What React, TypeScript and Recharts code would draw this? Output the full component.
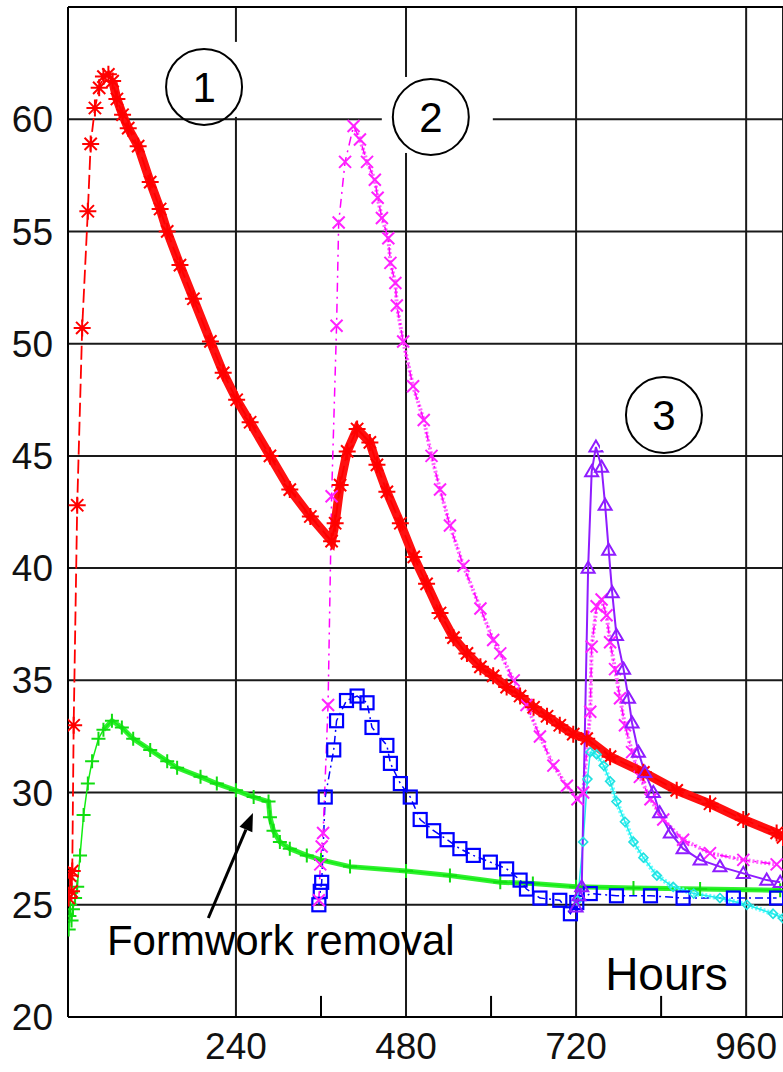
import React from 'react';
import { ComposedChart, Line, XAxis, YAxis, CartesianGrid, ReferenceLine, ReferenceDot } from 'recharts';

// Temperature (°C) vs hours
const redHours = [4, 6, 8, 9, 11, 16, 23, 31, 35, 41, 47, 53, 60, 66, 72, 80, 88, 102, 119, 133, 143, 161, 180, 204, 222, 241, 260, 288, 316, 345, 375, 380, 387, 397, 411, 429, 439, 453, 472, 491, 509, 528, 547, 566, 585, 603, 622, 641, 660, 679, 697, 716, 735, 768, 815, 862, 909, 956, 1003, 1012];
const redTemp = [25.3, 26.3, 25.6, 26.5, 33.0, 42.8, 50.7, 55.9, 58.9, 60.5, 61.4, 61.9, 62.0, 61.7, 60.9, 60.2, 59.6, 58.8, 57.2, 56.0, 55.0, 53.5, 52.0, 50.1, 48.7, 47.5, 46.5, 45.0, 43.5, 42.3, 41.2, 42.0, 43.7, 45.2, 46.2, 45.6, 44.6, 43.4, 42.0, 40.5, 39.3, 38.0, 36.9, 36.2, 35.6, 35.2, 34.7, 34.3, 33.8, 33.4, 33.0, 32.6, 32.4, 31.6, 30.9, 30.1, 29.5, 28.8, 28.2, 28.0];

const greenHours = [4, 5, 6, 8, 10, 13, 16, 20, 25, 31, 37, 46, 53, 65, 79, 95, 119, 143, 157, 190, 213, 240, 265, 286, 288, 293, 302, 316, 340, 360, 401, 480, 542, 613, 659, 720, 801, 895, 1008];
const greenTemp = [23.9, 24.5, 25.0, 24.3, 24.8, 25.3, 25.8, 27.2, 29.0, 30.4, 31.4, 32.4, 32.8, 33.2, 32.9, 32.4, 31.9, 31.4, 31.1, 30.7, 30.4, 30.1, 29.8, 29.6, 28.9, 28.3, 27.8, 27.5, 27.2, 27.0, 26.7, 26.5, 26.3, 26.0, 25.95, 25.8, 25.75, 25.7, 25.65];

const blueHours = [357, 359, 361, 366, 378, 382, 396, 411, 425, 432, 453, 458, 472, 486, 500, 519, 538, 556, 575, 599, 622, 641, 650, 669, 697, 712, 721, 740, 777, 825, 871, 942, 1003];
const blueTemp = [25.0, 25.6, 26.0, 29.8, 31.9, 33.2, 34.1, 34.3, 34.0, 32.9, 32.1, 31.3, 30.4, 29.8, 28.8, 28.3, 27.9, 27.5, 27.2, 26.9, 26.6, 26.1, 25.7, 25.3, 25.2, 24.6, 25.1, 25.5, 25.4, 25.4, 25.3, 25.3, 25.3];

const magentaHours = [357, 359, 361, 363, 370, 375, 382, 385, 394, 406, 415, 425, 436, 440, 446, 455, 458, 465, 467, 476, 490, 505, 516, 528, 542, 561, 585, 603, 613, 632, 650, 669, 688, 707, 722, 730, 740, 742, 749, 756, 763, 768, 775, 782, 789, 799, 810, 825, 843, 871, 909, 956, 1003];
const magentaTemp = [25.2, 26.8, 27.6, 28.2, 33.9, 43.2, 50.8, 55.4, 58.1, 59.7, 59.1, 58.1, 57.3, 56.5, 55.6, 54.7, 53.6, 52.7, 51.7, 50.1, 48.1, 46.6, 45.0, 43.5, 41.9, 40.1, 38.2, 36.8, 36.2, 35.0, 33.9, 32.5, 31.2, 30.3, 29.7, 30.0, 33.6, 36.5, 38.3, 38.6, 37.9, 36.7, 35.5, 34.2, 33.0, 31.8, 30.7, 29.7, 28.8, 27.9, 27.3, 27.0, 26.8];

const purpleHours = [720, 724, 728, 737, 742, 748, 756, 761, 766, 771, 777, 787, 794, 799, 808, 817, 829, 838, 853, 871, 895, 923, 956, 989, 1008];
const purpleTemp = [24.9, 25.4, 25.8, 40.0, 44.3, 45.4, 44.5, 42.8, 40.8, 38.9, 37.0, 35.5, 34.2, 33.1, 31.8, 30.9, 30.0, 29.1, 28.2, 27.5, 27.0, 26.7, 26.4, 26.1, 26.0];

const cyanHours = [722, 730, 736, 740, 749, 759, 768, 777, 789, 801, 815, 834, 857, 886, 923, 961, 998, 1012];
const cyanTemp = [25.2, 27.8, 30.6, 31.8, 31.7, 31.2, 30.5, 29.6, 28.7, 27.8, 27.1, 26.3, 25.8, 25.5, 25.3, 25.0, 24.6, 24.4];

const hourTicks = [240, 480, 720, 960];
const minorHourTicks = [360, 600, 840];
const tempTicks = [20, 25, 30, 35, 40, 45, 50, 55, 60];

const toPoints = (hours: number[], temps: number[]) => hours.map((h, i) => ({ h, t: temps[i] }));

const red = toPoints(redHours, redTemp);
const redDense = red.slice(13); // after the peak the markers merge into a band
const green = toPoints(greenHours, greenTemp);
const greenDense = green.slice(12);
const blue = toPoints(blueHours, blueTemp);
const magenta = toPoints(magentaHours, magentaTemp);
const magentaDense = magenta.slice(9);
const purple = toPoints(purpleHours, purpleTemp);
const cyan = toPoints(cyanHours, cyanTemp);
const cyanDense = cyan.slice(3);

const FONT = '"Liberation Sans", Arial, sans-serif';

const makeDot = (kind: string, color: string, size: number, width: number) => (props: any) => {
  const { cx, cy, index } = props;
  const key = `${kind}-${color}-${index}`;
  if (cx == null || cy == null) return <g key={key} />;
  const r = size / 2;
  const common = { stroke: color, strokeWidth: width, fill: 'none' };
  if (kind === 'asterisk') {
    const d = r * 0.72;
    return (
      <path key={key} {...common}
        d={`M${cx - r},${cy}H${cx + r}M${cx},${cy - r}V${cy + r}M${cx - d},${cy - d}L${cx + d},${cy + d}M${cx - d},${cy + d}L${cx + d},${cy - d}`} />
    );
  }
  if (kind === 'plus') {
    return <path key={key} {...common} d={`M${cx - r},${cy}H${cx + r}M${cx},${cy - r}V${cy + r}`} />;
  }
  if (kind === 'cross') {
    return <path key={key} {...common} d={`M${cx - r},${cy - r}L${cx + r},${cy + r}M${cx - r},${cy + r}L${cx + r},${cy - r}`} />;
  }
  if (kind === 'square') {
    return <rect key={key} {...common} x={cx - r} y={cy - r} width={size} height={size} />;
  }
  if (kind === 'triangle') {
    return <path key={key} {...common} d={`M${cx},${cy - r}L${cx + r},${cy + r * 0.7}L${cx - r},${cy + r * 0.7}Z`} />;
  }
  return <path key={key} {...common} d={`M${cx},${cy - r}L${cx + r},${cy}L${cx},${cy + r}L${cx - r},${cy}Z`} />;
};

const CircleTag = ({ cx, cy, label, box }: { cx: number; cy: number; label: string; box: number[] }) => (
  <g>
    <rect x={cx + box[0]} y={cy + box[2]} width={box[1] - box[0]} height={box[3] - box[2]} fill="#fff" />
    <circle cx={cx} cy={cy} r={38} fill="none" stroke="#000" strokeWidth={2} />
    <text x={cx} y={cy + 15} textAnchor="middle" fontSize={42} fontFamily={FONT} fill="#000">{label}</text>
  </g>
);

const Arrow = (props: any) => {
  const { x1, y1, x2, y2 } = props;
  if ([x1, y1, x2, y2].some((v) => v == null)) return <g />;
  const ang = Math.atan2(y2 - y1, x2 - x1);
  const len = 18;
  const half = 7;
  const bx = x2 - len * Math.cos(ang);
  const by = y2 - len * Math.sin(ang);
  const px = -Math.sin(ang) * half;
  const py = Math.cos(ang) * half;
  return (
    <g>
      <line x1={x1} y1={y1} x2={bx} y2={by} stroke="#000" strokeWidth={3} />
      <path d={`M${x2},${y2}L${bx + px},${by + py}L${bx - px},${by - py}Z`} fill="#000" />
    </g>
  );
};

const tickStyle = { fontSize: 37, fill: '#111', fontFamily: FONT };

export default function App() {
  return (
    <div style={{ position: 'absolute', left: 0, top: 0, width: 783, height: 1072, background: '#fff' }}>
      <ComposedChart width={783} height={1072} margin={{ top: 7, right: 0, bottom: 0, left: 0 }}>
        <CartesianGrid stroke="#1a1a1a" strokeWidth={2} />
        <XAxis
          type="number"
          dataKey="h"
          domain={[3, 1012]}
          allowDataOverflow
          ticks={hourTicks}
          interval={0}
          tickLine={false}
          tickSize={6}
          tickMargin={10}
          height={55}
          axisLine={{ stroke: '#000', strokeWidth: 2 }}
          tick={tickStyle}
        />
        <YAxis
          type="number"
          domain={[20, 65]}
          allowDataOverflow
          ticks={tempTicks}
          interval={0}
          tickLine={false}
          tickSize={6}
          tickMargin={9}
          width={68}
          axisLine={{ stroke: '#000', strokeWidth: 2 }}
          tick={tickStyle}
        />
        <ReferenceLine y={65} stroke="#000" strokeWidth={2} />
        {minorHourTicks.map((h) => (
          <ReferenceLine key={h} segment={[{ x: h, y: 20 }, { x: h, y: 20.94 }]} stroke="#000" strokeWidth={2} />
        ))}

        <Line data={greenDense} dataKey="t" type="linear" stroke="#33f033" strokeWidth={5} dot={false} activeDot={false} isAnimationActive={false} />
        <Line data={green} dataKey="t" type="linear" stroke="#11ee11" strokeWidth={1.5} dot={makeDot('plus', '#11dd11', 14, 2)} activeDot={false} isAnimationActive={false} />

        <Line data={blue} dataKey="t" type="linear" stroke="#0000ff" strokeWidth={1.5} strokeDasharray="8 4 2 4" dot={makeDot('square', '#0000ff', 13, 2.2)} activeDot={false} isAnimationActive={false} />

        <Line data={magentaDense} dataKey="t" type="linear" stroke="#ff66ff" strokeWidth={4} strokeDasharray="2 2" dot={false} activeDot={false} isAnimationActive={false} />
        <Line data={magenta} dataKey="t" type="linear" stroke="#ff00ff" strokeWidth={1.5} strokeDasharray="9 5 2 5" dot={makeDot('cross', '#ff22ff', 12, 2)} activeDot={false} isAnimationActive={false} />

        <Line data={redDense} dataKey="t" type="linear" stroke="#ff1010" strokeWidth={9} dot={false} activeDot={false} isAnimationActive={false} />
        <Line data={red} dataKey="t" type="linear" stroke="#ff0000" strokeWidth={1.8} strokeDasharray="14 5" dot={makeDot('asterisk', '#ff0000', 17, 2)} activeDot={false} isAnimationActive={false} />

        <Line data={cyanDense} dataKey="t" type="linear" stroke="#66ffff" strokeWidth={5} strokeDasharray="2 2" dot={false} activeDot={false} isAnimationActive={false} />
        <Line data={cyan} dataKey="t" type="linear" stroke="#22eeee" strokeWidth={1.5} dot={makeDot('diamond', '#22e0e0', 9, 1.6)} activeDot={false} isAnimationActive={false} />

        <Line data={purple} dataKey="t" type="linear" stroke="#8f1cff" strokeWidth={2} dot={makeDot('triangle', '#8f1cff', 13, 2)} activeDot={false} isAnimationActive={false} />

        <ReferenceDot x={195} y={61.44} r={0} ifOverflow="visible"
          shape={(p: any) => <CircleTag cx={p.cx} cy={p.cy} label="1" box={[-55, 55, -45, 30]} />} />
        <ReferenceDot x={515} y={60.1} r={0} ifOverflow="visible"
          shape={(p: any) => <CircleTag cx={p.cx} cy={p.cy} label="2" box={[-49, 62, -40, 36]} />} />
        <ReferenceDot x={844} y={46.82} r={0} ifOverflow="visible"
          shape={(p: any) => <CircleTag cx={p.cx} cy={p.cy} label="3" box={[-64, 43, -42, 35]} />} />

        <ReferenceLine segment={[{ x: 201, y: 24.41 }, { x: 264, y: 29.09 }]} ifOverflow="visible" shape={Arrow} />
        <ReferenceDot x={58} y={22.76} r={0} ifOverflow="visible"
          shape={(p: any) => (
            <text x={p.cx} y={p.cy} fontSize={42} fontFamily={FONT} fill="#000">Formwork removal</text>
          )} />
        <ReferenceDot x={761} y={21.2} r={0} ifOverflow="visible"
          shape={(p: any) => (
            <text x={p.cx} y={p.cy} fontSize={46} fontFamily={FONT} fill="#000">Hours</text>
          )} />
      </ComposedChart>
    </div>
  );
}
